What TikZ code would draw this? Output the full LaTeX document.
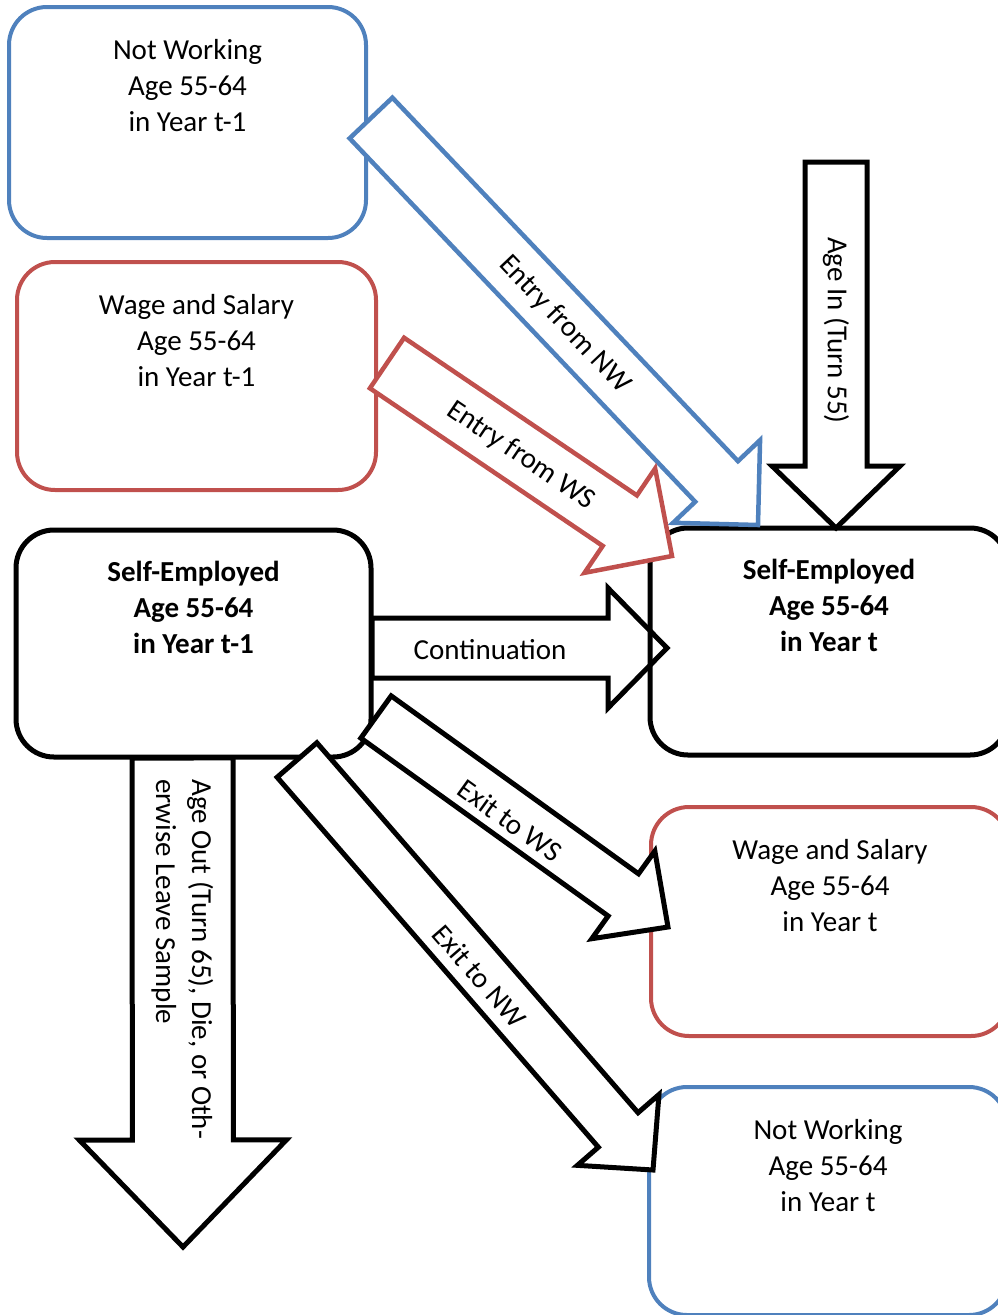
\documentclass[tikz,border=0pt]{standalone}
\usepackage{fontspec}
\setmainfont{Carlito}
\usetikzlibrary{calc}
\definecolor{nwblue}{HTML}{4F81BD}
\definecolor{wsred}{HTML}{C0504D}
% block arrow: #1 style, #2 tail, #3 tip, #4 shaft half width, #5 head half width, #6 head length
\newcommand\blockarrow[6]{%
  \draw[#1] let \p1=($(#3)-(#2)$), \n1={atan2(\y1,\x1)}, \n2={veclen(\x1,\y1)} in
    ($(#2)+(\n1+90:#4)$)
    -- ($(#2)+(\n1:\n2-#6)+(\n1+90:#4)$)
    -- ($(#2)+(\n1:\n2-#6)+(\n1+90:#5)$)
    -- (#3)
    -- ($(#2)+(\n1:\n2-#6)+(\n1-90:#5)$)
    -- ($(#2)+(\n1:\n2-#6)+(\n1-90:#4)$)
    -- ($(#2)+(\n1-90:#4)$) -- cycle;}
\tikzset{
  box/.style={rectangle, rounded corners=38pt, inner sep=0pt},
  bluebox/.style={box, draw=nwblue, line width=4pt},
  redbox/.style={box, draw=wsred, line width=4pt},
  blackbox/.style={box, draw=black, line width=5pt},
  boxtext/.style={align=center, anchor=north, inner sep=0pt, font=\fontsize{29}{36}\selectfont},
  arrowtext/.style={inner sep=0pt, font=\fontsize{29}{36}\selectfont},
  blkarrow/.style={draw=black, fill=white, line width=5pt, miter limit=20},
  bluearrow/.style={draw=nwblue, fill=white, line width=4.5pt, miter limit=20},
  redarrow/.style={draw=wsred, fill=white, line width=4.5pt, miter limit=20},
}
\begin{document}
\begin{tikzpicture}[x=1pt, y=-1pt]
\useasboundingbox (0,0) rectangle (998,1315);
\clip (0,0) rectangle (998,1315);
% boxes, left column
\node[bluebox, minimum width=357pt, minimum height=231pt] (nw1) at (187.5,122.5) {};
\node[boxtext] (nw1t) at ([yshift=-34pt]nw1.north) {Not Working\\Age 55-64\\in Year t-1};
\node[redbox, minimum width=359pt, minimum height=228pt] (ws1) at (196.5,376) {};
\node[boxtext] (ws1t) at ([yshift=-34pt]ws1.north) {Wage and Salary\\Age 55-64\\in Year t-1};
\node[blackbox, minimum width=355pt, minimum height=227pt] (se1) at (193.5,643.5) {};
\node[boxtext, font=\fontsize{29}{36}\selectfont\bfseries] (se1t) at ([yshift=-33pt]se1.north) {Self-Employed\\Age 55-64\\in Year t-1};
% continuation
\coordinate (conA) at (372,648);
\coordinate (conB) at (667,648);
\blockarrow{blkarrow}{conA}{conB}{30pt}{60pt}{59pt}
\node[arrowtext] (conT) at ($(conA)!0.4!(conB)+(0,2)$) {Continuation};
% boxes, right column
\node[blackbox, minimum width=358pt, minimum height=227pt] (se2) at (829,641.5) {};
\node[boxtext, font=\fontsize{29}{36}\selectfont\bfseries] (se2t) at ([yshift=-33pt]se2.north) {Self-Employed\\Age 55-64\\in Year t};
\node[redbox, minimum width=358pt, minimum height=229pt] (ws2) at (830,921.5) {};
\node[boxtext] (ws2t) at ([yshift=-34pt]ws2.north) {Wage and Salary\\Age 55-64\\in Year t};
\node[bluebox, minimum width=358pt, minimum height=228pt] (nw2) at (828,1201) {};
\node[boxtext] (nw2t) at ([yshift=-34pt]nw2.north) {Not Working\\Age 55-64\\in Year t};
% age in
\coordinate (ainA) at (836,162);
\coordinate (ainB) at (836,528);
\blockarrow{blkarrow}{ainA}{ainB}{31pt}{64pt}{62pt}
\node[arrowtext, rotate=-90] (ainT) at ($(ainA)!0.46!(ainB)$) {Age In (Turn 55)};
% exits
\coordinate (xWSa) at (376,717);
\coordinate (xWSb) at (668,927);
\blockarrow{blkarrow}{xWSa}{xWSb}{26pt}{54pt}{55pt}
\node[arrowtext, rotate=-35.72] (xWSt) at ($(xWSa)!0.46!(xWSb)+(0,7)$) {Exit to WS};
\coordinate (xNWa) at (297,760);
\coordinate (xNWb) at (653,1170);
\blockarrow{blkarrow}{xNWa}{xNWb}{26.3pt}{54pt}{53pt}
\node[arrowtext, rotate=-49.03] (xNWt) at ($(xNWa)!0.51!(xNWb)+(1,7)$) {Exit to NW};
% age out
\coordinate (aoA) at (182.5,758);
\coordinate (aoB) at (183,1247);
\blockarrow{blkarrow}{aoA}{aoB}{50.5pt}{103.5pt}{107pt}
\node[arrowtext, rotate=-90, anchor=west, align=left] (aoT) at ([yshift=-21pt]aoA) {Age Out (Turn 65), Die, or Oth-\\erwise Leave Sample};
% entries
\coordinate (eNWa) at (371,118);
\coordinate (eNWb) at (758,525);
\blockarrow{bluearrow}{eNWa}{eNWb}{29.5pt}{60pt}{60pt}
\node[arrowtext, rotate=-46.44] (eNWt) at ($(eNWa)!0.5!(eNWb)+(0,3)$) {Entry from NW};
\coordinate (eWSa) at (387,363);
\coordinate (eWSb) at (672,556);
\blockarrow{redarrow}{eWSa}{eWSb}{30.5pt}{63pt}{63pt}
\node[arrowtext, rotate=-34.10] (eWSt) at ($(eWSa)!0.47!(eWSb)+(0,2)$) {Entry from WS};
\end{tikzpicture}
\end{document}
